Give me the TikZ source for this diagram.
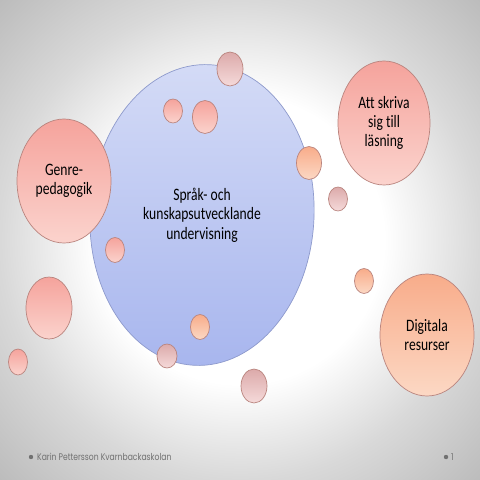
\documentclass[tikz,border=0pt]{standalone}
\usepackage{fontspec}
\usepackage{tikz}
\usetikzlibrary{shapes.geometric}
\newfontfamily\bubblefont[FakeStretch=0.78, Ligatures=NoCommon]{Carlito}
\newfontfamily\footfont[FakeStretch=0.8]{Poppins}
\definecolor{bluetop}{HTML}{D4DBF6}
\definecolor{bluebot}{HTML}{A8B6EE}
\definecolor{blueline}{HTML}{8E9ACC}
\definecolor{salmontop}{HTML}{F5A39C}
\definecolor{salmonbot}{HTML}{FBD3CD}
\definecolor{peachtop}{HTML}{F8AC8A}
\definecolor{peachbot}{HTML}{FCD8C4}
\definecolor{mauvetop}{HTML}{DCAAAA}
\definecolor{mauvebot}{HTML}{F5DADA}
\definecolor{bubbleline}{HTML}{B9847E}
\definecolor{footgray}{HTML}{717171}
\pgfdeclareradialshading{vignette}{\pgfpoint{0bp}{0bp}}{color(0bp)=(white); color(15bp)=(white); color(25bp)=(black!15); color(36bp)=(black!27); color(50bp)=(black!27)}

\begin{document}
\begin{tikzpicture}[x=1bp, y=-1bp,
  blob/.style={ellipse, draw=bubbleline, line width=0.7bp, inner sep=0pt, align=center,
    font=\bubblefont\fontsize{17.5}{19.5}\selectfont},
  salmon/.style={blob, top color=salmontop, bottom color=salmonbot},
  peach/.style={blob, top color=peachtop, bottom color=peachbot},
  mauve/.style={blob, top color=mauvetop, bottom color=mauvebot},
  size/.style 2 args={minimum width=#1bp, minimum height=#2bp},
  foot/.style={font=\footfont\fontsize{9.6}{10}\selectfont, text=footgray, inner sep=0pt}]
\useasboundingbox (0,0) rectangle (480,480);
\shade[shading=vignette] (0,0) rectangle (480,480);
\node[ellipse, draw=blueline, line width=0.7bp, top color=bluetop, bottom color=bluebot,
  size={224}{301}, rotate=-3] (kurs) at (202,215) {};
\node[align=center, font=\bubblefont\fontsize{17.5}{19.5}\selectfont] (kurstext) at (kurs.center) {Språk- och\\kunskapsutvecklande\\undervisning};
\node[salmon, size={94}{124}] (genre) at (64,181) {Genre-\\pedagogik};
\node[salmon, size={92}{124}] (skriva) at (384,123) {Att skriva\\sig till\\läsning};
\node[peach, size={94}{122}] (digitala) at (427,335) {Digitala\\resurser};
\node[mauve, size={26}{34}] (b1) at (230,69) {};
\node[salmon, size={19}{24}] (b2) at (173,111) {};
\node[salmon, size={25}{33}] (b3) at (205,117) {};
\node[peach, size={25}{33}] (b4) at (309,163) {};
\node[mauve, size={19}{24}] (b5) at (338,199) {};
\node[salmon, size={19}{25}] (b6) at (115,250) {};
\node[salmon, size={46}{62}] (b7) at (49,308) {};
\node[salmon, size={19}{26}] (b8) at (18,362) {};
\node[peach, size={19}{25}] (b9) at (364,281) {};
\node[peach, size={19}{25}] (b10) at (200,327) {};
\node[mauve, size={20}{24}] (b11) at (167,356) {};
\node[mauve, size={26}{34}] (b12) at (254,386) {};
\fill[footgray] (31,457) circle (2.2bp);
\node[foot, anchor=west] (namn) at (37,457) {Karin Pettersson Kvarnbackaskolan};
\fill[footgray] (446,457) circle (2.2bp);
\node[foot, anchor=west] (sida) at (451,457) {1};
\end{tikzpicture}
\end{document}
